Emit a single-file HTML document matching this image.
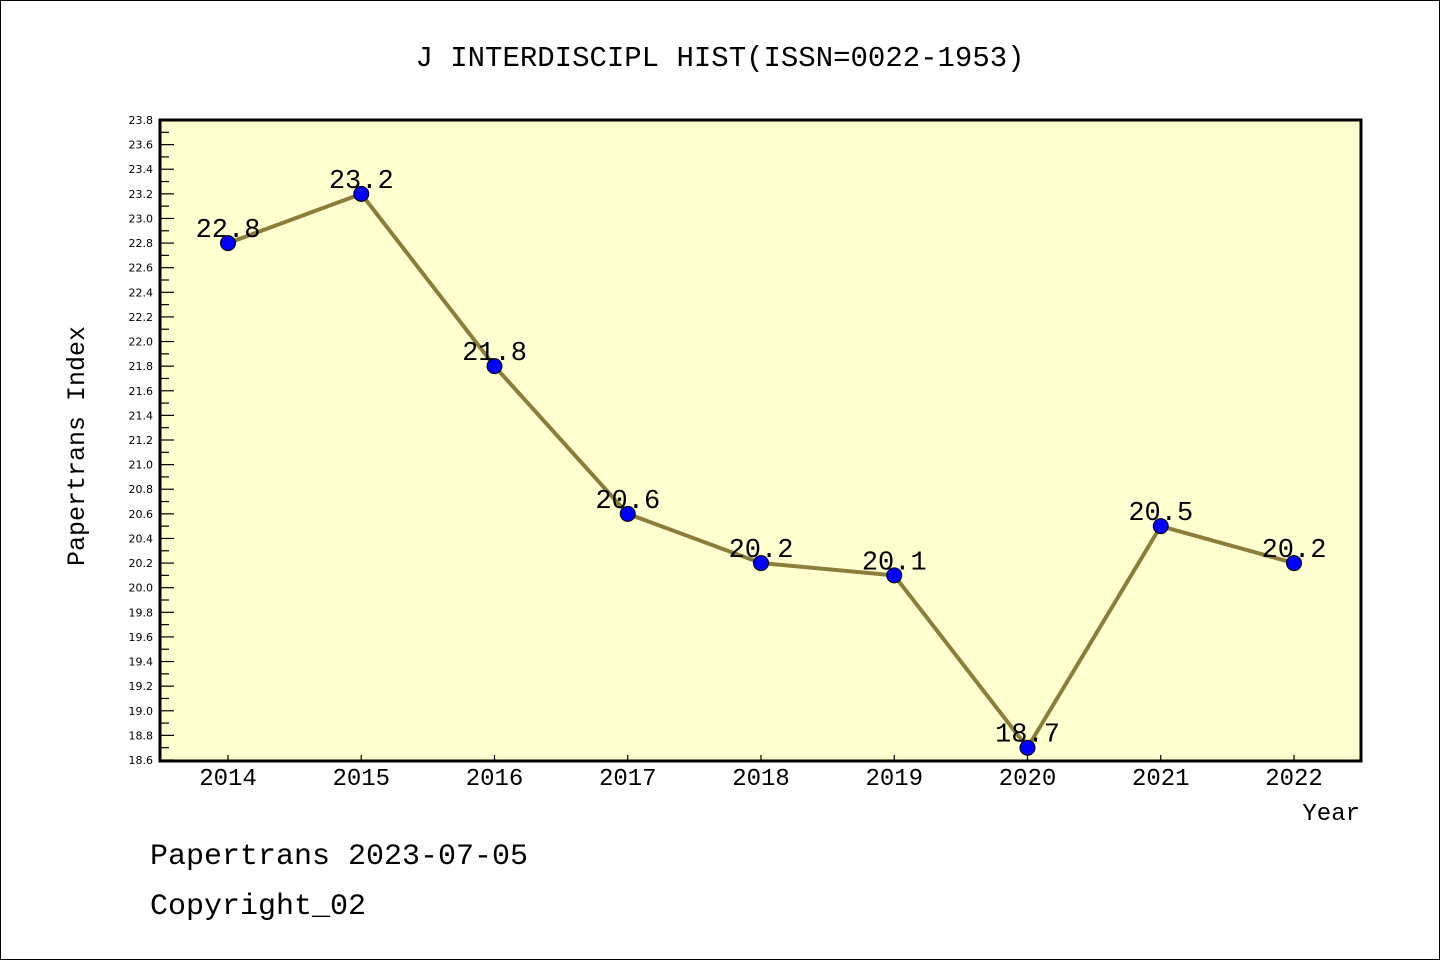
<!DOCTYPE html>
<html><head><meta charset="utf-8"><style>
body{margin:0;background:#fff}
svg text{font-family:"Liberation Mono","WenQuanYi Zen Hei",monospace}
svg text.tk{font-family:"DejaVu Sans","Liberation Sans",sans-serif}
</style></head><body>
<svg width="1440" height="960">
<rect x="0.5" y="0.5" width="1439" height="959" fill="#fff" stroke="#000"/>
<text x="720" y="66" font-size="29" text-anchor="middle">J INTERDISCIPL HIST(ISSN=0022-1953)</text>
<rect x="160" y="120" width="1201" height="641" fill="#ffffd0"/>
<g id="yaxis"></g>
<g id="xaxis"></g>
<g id="series"></g>
<rect x="160" y="120" width="1201" height="641" fill="none" stroke="#000" stroke-width="3"/>
<text x="84" y="446" font-size="25" text-anchor="middle" transform="rotate(-90 84 446)">Papertrans Index</text>
<text x="1360" y="820" font-size="24" text-anchor="end">Year</text>
<text x="150" y="864" font-size="30">Papertrans 2023-07-05</text>
<text x="150" y="914" font-size="30">Copyright_02</text>
</svg>
<script>
const years=["2014","2015","2016","2017","2018","2019","2020","2021","2022"];
const values=[22.8,23.2,21.8,20.6,20.2,20.1,18.7,20.5,20.2];
const valueLabels=["22.8","23.2","21.8","20.6","20.2","20.1","18.7","20.5","20.2"];
const yMin=18.6,yMax=23.8;
const NS="http://www.w3.org/2000/svg";
function y(v){return 760-(v-yMin)/(yMax-yMin)*640;}
function x(i){return 228+i*133.25;}
function mk(t,a,p){const e=document.createElementNS(NS,t);for(const k in a)e.setAttribute(k,a[k]);p.appendChild(e);return e;}
const ya=document.getElementById('yaxis');
for(let k=0;k<=52;k++){
  const v=yMin+k*0.1, yy=y(v);
  const major=k%2===0;
  const l=mk('line',{x1:160,x2:major?174:169,y1:yy,y2:yy,stroke:'#000','stroke-width':1.2},ya);
  
  
  if(major){const t=mk('text',{x:153,y:yy+4,'font-size':11,'text-anchor':'end','class':'tk'},ya);t.textContent=v.toFixed(1);
  
  }
}
const xa=document.getElementById('xaxis');
years.forEach((yr,i)=>{
  const l=mk('line',{x1:x(i),x2:x(i),y1:761,y2:755,stroke:'#000','stroke-width':1.2},xa);
  
  
  const t=mk('text',{x:x(i),y:785,'font-size':24,'text-anchor':'middle'},xa);t.textContent=yr;
  
  
});
const s=document.getElementById('series');
const pl=mk('polyline',{points:values.map((v,i)=>x(i)+','+y(v)).join(' '),fill:'none',stroke:'#8b7d3a','stroke-width':4},s);


values.forEach((v,i)=>{
  const c=mk('circle',{cx:x(i),cy:y(v),r:7.5,fill:'#0000ff',stroke:'#000','stroke-width':1},s);
  
  
  const t=mk('text',{x:x(i),y:y(v)-6,'font-size':27,'text-anchor':'middle'},s);t.textContent=valueLabels[i];
  
  
});
</script>
</body></html>
